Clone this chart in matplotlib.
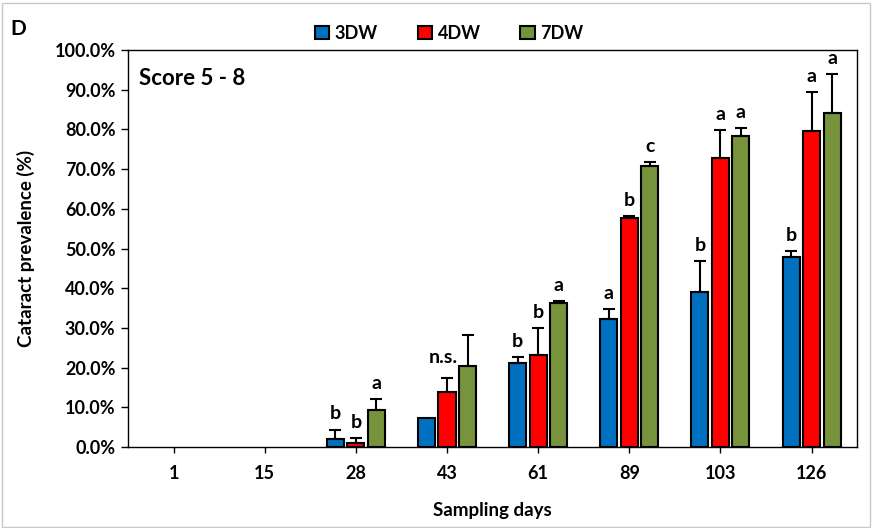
import numpy as np
import matplotlib
matplotlib.use("Agg")
import matplotlib.pyplot as plt
from matplotlib.patches import Rectangle

plt.rcParams['font.family'] = ['Lato', 'DejaVu Sans']

days = ['1', '15', '28', '43', '61', '89', '103', '126']
groups = ['3DW', '4DW', '7DW']
colors = ['#0070C0', '#FF0000', '#77933C']

# mean prevalence (%) and upper error (SD, %)
mean_3dw = [0.0, 0.0, 2.0, 7.4, 21.1, 32.2, 39.0, 47.9]
err_3dw = [0.0, 0.0, 2.4, 0.0, 1.6, 2.6, 7.9, 1.5]
mean_4dw = [0.0, 0.0, 0.9, 13.8, 23.3, 57.6, 72.9, 79.7]
err_4dw = [0.0, 0.0, 1.3, 3.7, 6.7, 0.6, 6.9, 9.8]
mean_7dw = [0.0, 0.0, 9.3, 20.4, 36.3, 70.8, 78.4, 84.1]
err_7dw = [0.0, 0.0, 2.7, 7.8, 0.5, 1.0, 2.0, 9.9]

# significance letters per bar
sig_3dw = ['', '', 'b', '', 'b', 'a', 'b', 'b']
sig_4dw = ['', '', 'b', '', 'b', 'b', 'a', 'a']
sig_7dw = ['', '', 'a', '', 'a', 'c', 'a', 'a']
ns_day = '43'

means = [mean_3dw, mean_4dw, mean_7dw]
errs = [err_3dw, err_4dw, err_7dw]
sigs = [sig_3dw, sig_4dw, sig_7dw]

fig = plt.figure(figsize=(8.72, 5.28), dpi=100)
ax = fig.add_axes([0.1468, 0.1534, 0.8362, 0.7519])

x = np.arange(len(days))
w = 0.187
step = 0.225
for i, (g, c) in enumerate(zip(groups, colors)):
    xs = x + (i - 1) * step
    m = np.array(means[i])
    e = np.array(errs[i])
    # zero-valued bars are not drawn in the original
    ax.bar(xs, np.where(m > 0, m, np.nan), width=w, color=c,
           edgecolor='black', linewidth=1.5, label=g, zorder=2)
    show = (m > 0) & (e > 0)
    ax.errorbar(xs[show], m[show], yerr=[np.zeros(show.sum()), e[show]],
                fmt='none', ecolor='black', elinewidth=1.5, capsize=4,
                capthick=1.5, zorder=3)
    for xi, mi, ei, s in zip(xs, m, e, sigs[i]):
        if s:
            ax.text(xi, mi + ei + 1.8, s, ha='center', va='bottom',
                    fontsize=14, fontweight='bold')

k = days.index(ns_day)
ax.text(x[k] - 0.04, 20.5, 'n.s.', ha='center', va='bottom',
        fontsize=14, fontweight='bold')

ax.set_xlim(-0.5, len(days) - 0.5)
ax.set_ylim(0, 100)
ax.set_yticks(np.arange(0, 101, 10))
ax.set_yticklabels([f'{v:.1f}%' for v in np.arange(0, 101, 10)])
ax.set_xticks(x)
ax.set_xticklabels(days)
for lab in ax.get_xticklabels() + ax.get_yticklabels():
    lab.set_fontweight('bold')
    lab.set_fontsize(13)
ax.tick_params(axis='y', direction='out', length=5, width=1, pad=4)
ax.tick_params(axis='x', direction='out', length=4, width=1, pad=9)
for sp in ax.spines.values():
    sp.set_linewidth(1)
    sp.set_color('black')

ax.set_xlabel('Sampling days', fontsize=13.5, fontweight='bold', labelpad=14)
ax.set_ylabel('Cataract prevalence (%)', fontsize=13.5, fontweight='bold', labelpad=14)

ax.text(0.015, 0.955, 'Score 5 - 8', transform=ax.transAxes, ha='left', va='top',
        fontsize=16, fontweight='bold')
fig.text(0.012, 0.945, 'D', fontsize=15, fontweight='bold', ha='left', va='center')

handles, labels = ax.get_legend_handles_labels()
leg = fig.legend(handles, labels, loc='center', bbox_to_anchor=(0.515, 0.937),
                 ncol=3, frameon=False, fontsize=13, handlelength=0.8,
                 handleheight=0.8, handletextpad=0.3, columnspacing=2.2)
for t in leg.get_texts():
    t.set_fontweight('bold')

fig.patches.append(Rectangle((0.002, 0.002), 0.996, 0.993, transform=fig.transFigure,
                             fill=False, edgecolor='#c8c8c8', linewidth=1))

fig.savefig('out.png', dpi=100)
